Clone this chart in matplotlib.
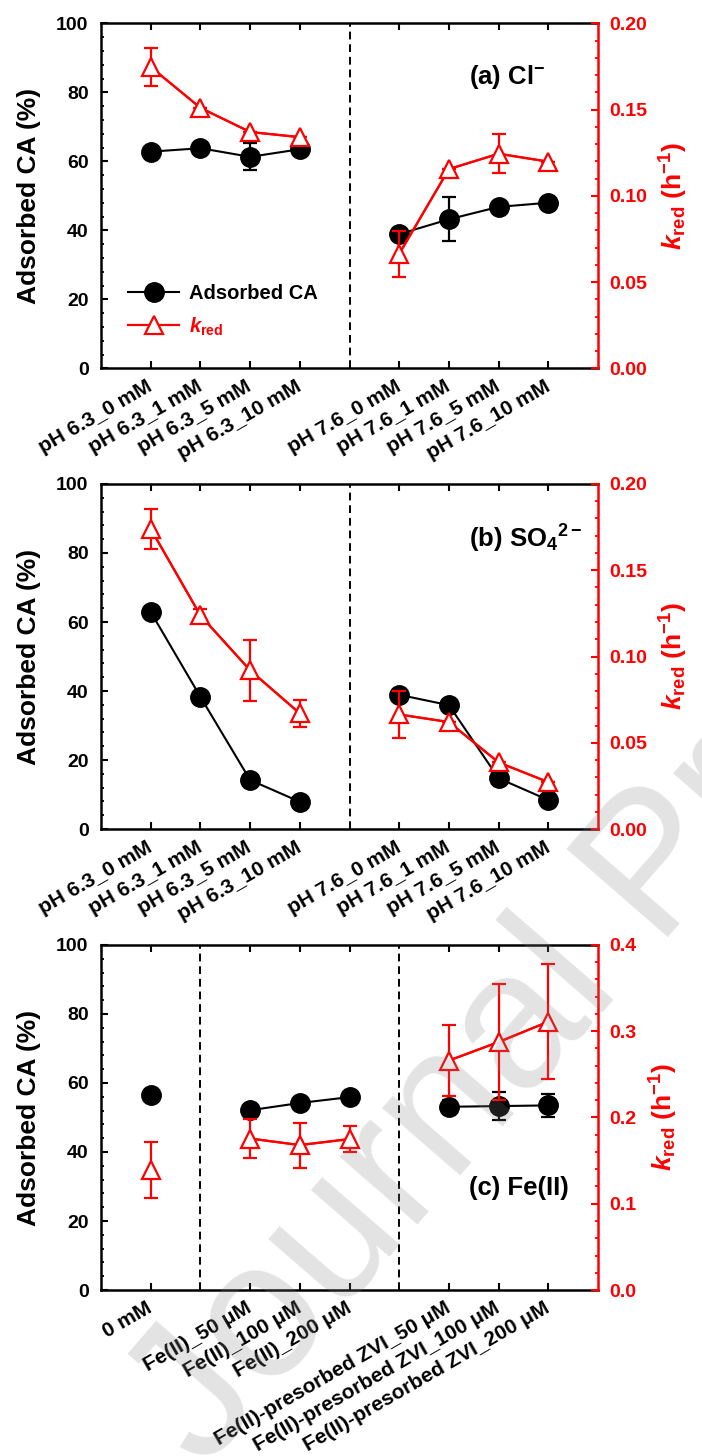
import numpy as np
import matplotlib
matplotlib.use("Agg")
import matplotlib.pyplot as plt
from matplotlib.ticker import MultipleLocator, FormatStrFormatter, NullLocator
from matplotlib.transforms import ScaledTranslation

# ---------------- data ----------------
ab_labels = ['pH 6.3_0 mM', 'pH 6.3_1 mM', 'pH 6.3_5 mM', 'pH 6.3_10 mM',
             'pH 7.6_0 mM', 'pH 7.6_1 mM', 'pH 7.6_5 mM', 'pH 7.6_10 mM']
ab_groups = [4, 4]

cl_ads = [62.8, 63.8, 61.3, 63.5, 38.9, 43.2, 46.8, 48.0]
cl_ads_err = [0, 0, 3.9, 0, 0, 6.4, 0, 0]
cl_k = [0.1747, 0.151, 0.137, 0.134, 0.0664, 0.1155, 0.1244, 0.1198]
cl_k_err = [0.011, 0, 0, 0, 0.0134, 0, 0.0114, 0]

so4_ads = [62.9, 38.3, 14.2, 7.9, 38.9, 35.9, 14.7, 8.4]
so4_ads_err = [0, 0, 0, 0, 0, 0, 0, 0]
so4_k = [0.174, 0.1238, 0.092, 0.067, 0.0664, 0.062, 0.0386, 0.0272]
so4_k_err = [0.0114, 0.004, 0.0178, 0.0078, 0.0134, 0, 0, 0]

fe_labels = ['0 mM', 'Fe(II)_50 \u03bcM', 'Fe(II)_100 \u03bcM', 'Fe(II)_200 \u03bcM',
             'Fe(II)-presorbed ZVI_50 \u03bcM', 'Fe(II)-presorbed ZVI_100 \u03bcM',
             'Fe(II)-presorbed ZVI_200 \u03bcM']
fe_groups = [1, 3, 3]
fe_ads = [56.4, 52.1, 54.2, 55.9, 53.1, 53.3, 53.5]
fe_ads_err = [0, 0, 0, 0, 2.0, 4.1, 3.4]
fe_k = [0.139, 0.1756, 0.168, 0.175, 0.266, 0.2875, 0.311]
fe_k_err = [0.0325, 0.0228, 0.026, 0.0148, 0.041, 0.0675, 0.0665]

panel_titles = [r'(a) Cl$^{-}$', r'(b) SO$_{4}$$^{2-}$', '(c) Fe(II)']

# ---------------- style ----------------
plt.rcParams['font.family'] = ['Liberation Sans', 'DejaVu Sans']
plt.rcParams['font.weight'] = 'bold'
plt.rcParams['mathtext.fontset'] = 'custom'
plt.rcParams['mathtext.rm'] = 'Liberation Sans:bold'
plt.rcParams['mathtext.it'] = 'Liberation Sans:italic:bold'
plt.rcParams['mathtext.bf'] = 'Liberation Sans:bold'

RED = '#ff0000'
TICK_FS = 14
XTICK_FS = 15
LABEL_FS = 19


def layout(sizes):
    pos, dividers = [], []
    x = 1
    for gi, n in enumerate(sizes):
        pos.extend(range(x, x + n))
        x += n
        if gi < len(sizes) - 1:
            dividers.append(x)
            x += 1
    return np.array(pos), dividers, x


def draw_panel(fig, rect, labels, groups, ads, ads_err, k, k_err, kmax, kmajor, kminor,
               kfmt, title, title_y, legend=False):
    ax = fig.add_axes(rect)
    ax.patch.set_alpha(0)
    pos, dividers, xmax = layout(groups)
    ax.set_xlim(0, xmax)
    ax.set_ylim(0, 100)
    ax2 = ax.twinx()
    ax2.set_ylim(0, kmax)

    ads = np.asarray(ads, float)
    k = np.asarray(k, float)
    start = 0
    hb = hr = None
    for n in groups:
        sl = slice(start, start + n)
        ax.errorbar(pos[sl], ads[sl], yerr=np.asarray(ads_err, float)[sl], fmt='none',
                    ecolor='black', elinewidth=1.6, capsize=5, capthick=1.6, zorder=1)
        hb, = ax.plot(pos[sl], ads[sl], '-o', color='black', lw=1.5, ms=14,
                      mfc='black', mec='black', zorder=2)
        ax2.plot(pos[sl], k[sl], '-', color=RED, lw=1.6, zorder=1)
        ax2.errorbar(pos[sl], k[sl], yerr=np.asarray(k_err, float)[sl], fmt='none',
                     ecolor=RED, elinewidth=1.6, capsize=5, capthick=1.6, zorder=2)
        hr, = ax2.plot(pos[sl], k[sl], '-^', color=RED, lw=1.6, ms=13, mfc='white',
                       mec=RED, mew=1.6, zorder=3)
        start += n

    for d in dividers:
        ax.axvline(d, color='black', ls=(0, (4, 2.5)), lw=1.4, zorder=0)

    # axes styling
    for s in ['left', 'bottom', 'top']:
        ax.spines[s].set_linewidth(1.8)
        ax.spines[s].set_color('black')
    ax.spines['right'].set_visible(False)
    for s in ['left', 'bottom', 'top']:
        ax2.spines[s].set_visible(False)
    ax2.spines['right'].set_color(RED)
    ax2.spines['right'].set_linewidth(1.8)

    ax.set_xticks(pos)
    ax.set_xticklabels(labels, rotation=30, ha='right', va='center',
                       rotation_mode='anchor', fontsize=XTICK_FS, fontweight='bold')
    shift = ScaledTranslation(5 / 72, 0, fig.dpi_scale_trans)
    for lab in ax.get_xticklabels():
        lab.set_transform(lab.get_transform() + shift)
    ax.xaxis.set_minor_locator(NullLocator())
    ax.tick_params(axis='x', which='major', direction='in', top=True, bottom=True,
                   length=5, width=1.5, pad=12)
    ax.yaxis.set_major_locator(MultipleLocator(20))
    ax.yaxis.set_minor_locator(MultipleLocator(4))
    ax.tick_params(axis='y', which='major', direction='in', left=True, right=False,
                   length=5, width=1.5, labelsize=TICK_FS, pad=9)
    ax.tick_params(axis='y', which='minor', direction='in', left=True, right=False,
                   length=2.5, width=1.3)
    ax.set_ylabel('Adsorbed CA (%)', fontsize=LABEL_FS, fontweight='bold', labelpad=11)

    ax2.yaxis.set_major_locator(MultipleLocator(kmajor))
    ax2.yaxis.set_minor_locator(MultipleLocator(kminor))
    ax2.yaxis.set_major_formatter(FormatStrFormatter(kfmt))
    ax2.tick_params(axis='y', which='major', direction='in', right=True, left=False,
                    length=5, width=1.5, colors=RED, labelsize=TICK_FS, pad=8)
    ax2.tick_params(axis='y', which='minor', direction='in', right=True, left=False,
                    length=2.5, width=1.3, colors=RED)
    ax2.set_ylabel(r'$k_{\rm red}$ (h$^{-1}$)', fontsize=LABEL_FS, fontweight='bold',
                   color=RED, labelpad=8)

    ax.text(0.74, title_y, title, transform=ax.transAxes, fontsize=18.5,
            fontweight='bold', ha='left', va='center')

    if legend:
        ax2.legend([hb, hr], ['Adsorbed CA', r'$k_{\rm red}$'], loc='lower left',
                   bbox_to_anchor=(0.035, 0.06), frameon=False, fontsize=14.5,
                   handlelength=2.5, handletextpad=0.5, labelspacing=0.6,
                   borderpad=0, labelcolor=['black', RED])
    return ax, ax2


fig = plt.figure(figsize=(7.02, 14.56), dpi=100)

L, W, H = 0.1439, 0.708, 0.237
draw_panel(fig, [L, 0.747, W, H], ab_labels, ab_groups, cl_ads, cl_ads_err, cl_k, cl_k_err,
           0.20, 0.05, 0.01, '%.2f', panel_titles[0], 0.845, legend=True)
draw_panel(fig, [L, 0.4306, W, H], ab_labels, ab_groups, so4_ads, so4_ads_err, so4_k,
           so4_k_err, 0.20, 0.05, 0.01, '%.2f', panel_titles[1], 0.842)
draw_panel(fig, [L, 0.114, W, H], fe_labels, fe_groups, fe_ads, fe_ads_err, fe_k, fe_k_err,
           0.4, 0.1, 0.02, '%.1f', panel_titles[2], 0.295)

# watermark of the source document
fig.text(0.291, -0.0103, 'Journal Pre-proof', rotation=49, rotation_mode='anchor',
         ha='left', va='baseline', fontsize=140, color='0.5', alpha=0.22,
         fontweight='normal', zorder=10)

fig.savefig('out.png', dpi=100)
